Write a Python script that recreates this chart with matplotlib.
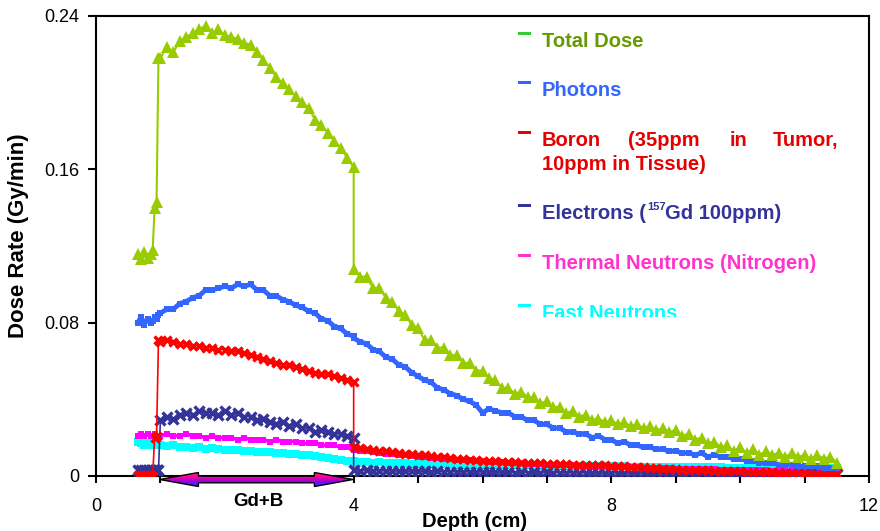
import numpy as np
import matplotlib
matplotlib.use('Agg')
import matplotlib.pyplot as plt
from matplotlib.ticker import MultipleLocator, FuncFormatter
from matplotlib.patches import Polygon, Rectangle
from matplotlib.transforms import Bbox, TransformedBbox
from matplotlib.colors import LinearSegmentedColormap

plt.rcParams['font.family'] = ['Liberation Sans', 'DejaVu Sans']

W, H = 880, 531

# depths (cm): before the tumour, inside the Gd+B tumour (1-4 cm), tissue behind it
depth_pre = [0.65, 0.70, 0.75, 0.80, 0.85, 0.88, 0.91, 0.94, 0.97]
depth_tumor = np.round(np.arange(1.0, 4.05, 0.1), 1)
depth_tissue = np.round(np.arange(4.0, 11.55, 0.1), 1)

# dose rates (Gy/min)
total_pre = [0.116, 0.113, 0.117, 0.114, 0.116, 0.118, 0.140, 0.143, 0.218]
total_tumor = [0.218, 0.224, 0.221, 0.227, 0.229, 0.231, 0.233, 0.235, 0.231, 0.233,
               0.230, 0.229, 0.228, 0.226, 0.225, 0.221, 0.217, 0.213, 0.208, 0.205,
               0.202, 0.198, 0.195, 0.192, 0.186, 0.183, 0.179, 0.175, 0.171, 0.166,
               0.161]
total_tissue = [0.108, 0.104, 0.104, 0.098, 0.098, 0.093, 0.091, 0.086, 0.084, 0.079,
                0.077, 0.071, 0.071, 0.067, 0.067, 0.063, 0.063, 0.059, 0.059, 0.055,
                0.055, 0.051, 0.050, 0.046, 0.046, 0.043, 0.044, 0.041, 0.041, 0.038,
                0.039, 0.036, 0.036, 0.033, 0.034, 0.031, 0.032, 0.029, 0.030, 0.028,
                0.029, 0.027, 0.028, 0.026, 0.027, 0.025, 0.026, 0.024, 0.025, 0.023,
                0.024, 0.021, 0.022, 0.019, 0.020, 0.017, 0.018, 0.015, 0.016, 0.013,
                0.015, 0.012, 0.014, 0.011, 0.013, 0.011, 0.012, 0.010, 0.012, 0.010,
                0.011, 0.009, 0.011, 0.009, 0.010, 0.007]

photons_pre = [0.080, 0.083, 0.079, 0.082, 0.080, 0.081, 0.083, 0.082, 0.084]
photons_tumor = [0.085, 0.087, 0.087, 0.090, 0.091, 0.093, 0.094, 0.097, 0.097, 0.098,
                 0.099, 0.098, 0.100, 0.099, 0.100, 0.097, 0.097, 0.094, 0.094, 0.092,
                 0.091, 0.089, 0.088, 0.086, 0.085, 0.082, 0.081, 0.078, 0.077, 0.074,
                 0.073]
photons_tissue = [0.072, 0.070, 0.069, 0.066, 0.065, 0.062, 0.061, 0.058, 0.057, 0.054,
                  0.052, 0.050, 0.049, 0.046, 0.045, 0.043, 0.042, 0.040, 0.039, 0.037,
                  0.033, 0.035, 0.034, 0.033, 0.033, 0.031, 0.031, 0.029, 0.029, 0.027,
                  0.027, 0.025, 0.025, 0.023, 0.023, 0.022, 0.022, 0.020, 0.021, 0.019,
                  0.019, 0.017, 0.018, 0.016, 0.016, 0.015, 0.015, 0.014, 0.014, 0.013,
                  0.013, 0.012, 0.012, 0.011, 0.012, 0.010, 0.011, 0.010, 0.010, 0.009,
                  0.009, 0.008, 0.008, 0.007, 0.007, 0.007, 0.006, 0.006, 0.006, 0.005,
                  0.005, 0.005, 0.005, 0.004, 0.004, 0.004]

boron_pre = [0.0005, 0.0005, 0.0005, 0.0005, 0.0005, 0.0, 0.020, 0.021, 0.071]
boron_tumor = [0.070, 0.071, 0.070, 0.069, 0.069, 0.068, 0.068, 0.067, 0.067, 0.066,
               0.066, 0.065, 0.065, 0.064, 0.063, 0.062, 0.061, 0.060, 0.059, 0.058,
               0.058, 0.057, 0.056, 0.055, 0.054, 0.053, 0.053, 0.052, 0.051, 0.050,
               0.049]
boron_tissue = [0.0150, 0.0145, 0.0140, 0.0137, 0.0133, 0.0130, 0.0125, 0.0120, 0.0117, 0.0113,
                0.0110, 0.0107, 0.0103, 0.0100, 0.0097, 0.0094, 0.0090, 0.0087, 0.0085, 0.0082,
                0.0080, 0.0078, 0.0076, 0.0074, 0.0073, 0.0071, 0.0070, 0.0068, 0.0067, 0.0066,
                0.0065, 0.0064, 0.0063, 0.0061, 0.0060, 0.0059, 0.0058, 0.0057, 0.0056, 0.0055,
                0.0054, 0.0052, 0.0051, 0.0049, 0.0047, 0.0045, 0.0043, 0.0041, 0.0039, 0.0037,
                0.0035, 0.0033, 0.0032, 0.0031, 0.0030, 0.0029, 0.0028, 0.0027, 0.0026, 0.0025,
                0.0024, 0.0023, 0.0022, 0.0021, 0.0020, 0.0019, 0.0018, 0.0017, 0.0016, 0.0015,
                0.0014, 0.0013, 0.0012, 0.0011, 0.0010, 0.0010]

electrons_pre = [0.003, 0.003, 0.003, 0.003, 0.003, 0.003, 0.003, 0.003, 0.003]
electrons_tumor = [0.029, 0.031, 0.030, 0.032, 0.033, 0.032, 0.034, 0.033, 0.033, 0.032,
                   0.034, 0.032, 0.033, 0.031, 0.031, 0.029, 0.030, 0.028, 0.027, 0.028,
                   0.026, 0.027, 0.025, 0.025, 0.023, 0.024, 0.023, 0.022, 0.022, 0.021,
                   0.020]
electrons_tissue = [0.0030, 0.0028, 0.0029, 0.0027, 0.0028, 0.0026, 0.0027, 0.0025, 0.0026, 0.0025,
                    0.0024, 0.0025, 0.0023, 0.0024, 0.0022, 0.0023, 0.0021, 0.0022, 0.0021, 0.0020,
                    0.0022, 0.0020, 0.0021, 0.0019, 0.0020, 0.0018, 0.0019, 0.0018, 0.0019, 0.0017,
                    0.0019, 0.0017, 0.0018, 0.0016, 0.0017, 0.0016, 0.0017, 0.0016, 0.0016, 0.0015,
                    0.0017, 0.0015, 0.0016, 0.0015, 0.0016, 0.0015, 0.0015, 0.0014, 0.0015, 0.0014,
                    0.0015, 0.0013, 0.0014, 0.0013, 0.0014, 0.0013, 0.0014, 0.0013, 0.0013, 0.0012,
                    0.0013, 0.0012, 0.0012, 0.0011, 0.0012, 0.0011, 0.0012, 0.0011, 0.0011, 0.0011,
                    0.0011, 0.0010, 0.0011, 0.0010, 0.0010, 0.0010]

thermal_pre = [0.021, 0.022, 0.021, 0.022, 0.021, 0.021, 0.022, 0.021, 0.021]
thermal_tumor = [0.021, 0.022, 0.021, 0.021, 0.022, 0.021, 0.021, 0.020, 0.021, 0.020,
                 0.020, 0.020, 0.019, 0.020, 0.019, 0.019, 0.019, 0.018, 0.019, 0.018,
                 0.018, 0.018, 0.017, 0.017, 0.017, 0.016, 0.016, 0.016, 0.015, 0.015,
                 0.015]
thermal_tissue = [0.0135, 0.0130, 0.0128, 0.0124, 0.0120, 0.0117, 0.0113, 0.0110, 0.0107, 0.0104,
                  0.0101, 0.0098, 0.0095, 0.0092, 0.0090, 0.0087, 0.0085, 0.0083, 0.0081, 0.0079,
                  0.0077, 0.0075, 0.0073, 0.0071, 0.0070, 0.0068, 0.0066, 0.0065, 0.0063, 0.0062,
                  0.0060, 0.0059, 0.0058, 0.0056, 0.0055, 0.0054, 0.0053, 0.0052, 0.0051, 0.0050,
                  0.0049, 0.0048, 0.0047, 0.0046, 0.0045, 0.0044, 0.0043, 0.0042, 0.0041, 0.0040,
                  0.0039, 0.0038, 0.0037, 0.0036, 0.0036, 0.0035, 0.0034, 0.0033, 0.0033, 0.0032,
                  0.0031, 0.0031, 0.0030, 0.0029, 0.0029, 0.0028, 0.0028, 0.0027, 0.0027, 0.0026,
                  0.0026, 0.0025, 0.0025, 0.0024, 0.0024, 0.0023]

fast_pre = [0.018, 0.017, 0.016, 0.017, 0.016, 0.017, 0.016, 0.016, 0.016]
fast_tumor = [0.0160, 0.0155, 0.0160, 0.0150, 0.0152, 0.0148, 0.0150, 0.0143, 0.0145, 0.0140,
              0.0138, 0.0135, 0.0137, 0.0130, 0.0132, 0.0127, 0.0125, 0.0126, 0.0120, 0.0122,
              0.0116, 0.0113, 0.0111, 0.0107, 0.0105, 0.0099, 0.0095, 0.0090, 0.0085, 0.0080,
              0.0075]
fast_tissue = [0.0078, 0.0074, 0.0072, 0.0070, 0.0071, 0.0068, 0.0067, 0.0066, 0.0066, 0.0065,
               0.0064, 0.0063, 0.0063, 0.0062, 0.0061, 0.0061, 0.0060, 0.0060, 0.0059, 0.0059,
               0.0058, 0.0058, 0.0057, 0.0057, 0.0056, 0.0056, 0.0055, 0.0055, 0.0055, 0.0054,
               0.0054, 0.0053, 0.0053, 0.0053, 0.0052, 0.0052, 0.0052, 0.0051, 0.0051, 0.0051,
               0.0050, 0.0050, 0.0050, 0.0049, 0.0049, 0.0049, 0.0048, 0.0048, 0.0048, 0.0047,
               0.0047, 0.0047, 0.0046, 0.0046, 0.0046, 0.0045, 0.0045, 0.0045, 0.0044, 0.0044,
               0.0044, 0.0044, 0.0043, 0.0043, 0.0043, 0.0042, 0.0042, 0.0042, 0.0042, 0.0041,
               0.0041, 0.0041, 0.0040, 0.0040, 0.0040, 0.0040]

x_tick_labels = ['0', '4', '8', '12']
y_ticks = [0, 0.08, 0.16, 0.24]
y_tick_labels = ['0', '0.08', '0.16', '0.24']


def fx(px):
    return px / W


def fy(py):
    return 1 - py / H


fig = plt.figure(figsize=(W / 100, H / 100), dpi=100)
ax = fig.add_axes([fx(96), fy(476), (869 - 96) / W, (476 - 16) / H])

depth = np.concatenate([depth_pre, depth_tumor, depth_tissue])

# drawn bottom to top
curves = [
    (fast_pre, fast_tumor, fast_tissue,
     dict(color='#00FFFF', lw=3.5, marker='s', ms=5.5, mew=0)),
    (thermal_pre, thermal_tumor, thermal_tissue,
     dict(color='#FF00FF', lw=2.5, marker='s', ms=4.5, mew=0)),
    (electrons_pre, electrons_tumor, electrons_tissue,
     dict(color='#333399', lw=1.2, marker='x', ms=6.5, mew=2.4)),
    (boron_pre, boron_tumor, boron_tissue,
     dict(color='#FF0000', lw=1.2, marker='x', ms=6, mew=2.4)),
    (photons_pre, photons_tumor, photons_tissue,
     dict(color='#3366FF', lw=3.5, marker='s', ms=4, mew=0)),
    (total_pre, total_tumor, total_tissue,
     dict(color='#99CC00', lw=1.5, marker='^', ms=8, mew=0)),
]
for i, (pre, tumor, tissue, style) in enumerate(curves):
    vals = np.concatenate([pre, tumor, tissue])
    ax.plot(depth, vals, zorder=2 + i, **style)

ax.set_xlim(0, 12)
ax.set_ylim(0, 0.24)
ax.xaxis.set_major_locator(MultipleLocator(1))
ax.xaxis.set_major_formatter(FuncFormatter(
    lambda v, p: x_tick_labels[int(round(v)) // 4] if int(round(v)) % 4 == 0 else ''))
ax.set_yticks(y_ticks)
ax.set_yticklabels(y_tick_labels)
ax.tick_params(axis='x', length=5, width=1.5, pad=11, labelsize=13)
ax.tick_params(axis='y', length=6, width=1.5, pad=6, labelsize=13)
for sp in ax.spines.values():
    sp.set_linewidth(1.5)

# axis titles
fig.text(fx(475), fy(527), 'Depth (cm)', ha='center', va='baseline',
         weight='bold', size=14.5)
fig.text(fx(19), fy(236), 'Dose Rate (Gy/min)', ha='center', va='center',
         rotation=90, weight='bold', size=16)

# Gd+B double arrow under the axis
arr_ax = fig.add_axes([fx(96), fy(490.5), (869 - 96) / W, 22 / H])
arr_ax.set_xlim(0, 12)
arr_ax.set_ylim(-11, 11)
arr_ax.axis('off')
arr_ax.set_zorder(5)
x0, x1, hl, hh, bh = 0.99, 3.99, 0.6, 7, 3.3
verts = [(x0, 0), (x0 + hl, hh), (x0 + hl, bh), (x1 - hl, bh), (x1 - hl, hh),
         (x1, 0), (x1 - hl, -hh), (x1 - hl, -bh), (x0 + hl, -bh), (x0 + hl, -hh)]
arrow = Polygon(verts, closed=True, facecolor='none', edgecolor='black', lw=1, zorder=3)
arr_ax.add_patch(arrow)
cmap = LinearSegmentedColormap.from_list('gdb', ['#2233FF', '#9900E0', '#FF0099', '#FF3377'])
grad = np.linspace(0, 1, 64).reshape(-1, 1)
im = arr_ax.imshow(grad, cmap=cmap, extent=[x0, x1, -hh, hh], origin='lower',
                   aspect='auto', interpolation='bilinear', zorder=2)
im.set_clip_path(arrow)
arr_ax.set_xlim(0, 12)
arr_ax.set_ylim(-11, 11)
fig.text(fx(258), fy(502), 'Gd+B', ha='center', va='center', weight='bold', size=13.5)

# legend, drawn as coloured text
leg_x = 542
mark_rows = [('#33CC33', 33.5), ('#3366FF', 82.5), ('#E60000', 132.5),
             ('#333399', 205.5), ('#FF33CC', 255.5), ('#00FFFF', 305.5)]
for col, py in mark_rows:
    fig.add_artist(Rectangle((fx(518), fy(py + 1.5)), 13 / W, 3 / H,
                             transform=fig.transFigure, color=col, lw=0))

kw = dict(va='baseline', ha='left', weight='bold', size=14.5)
fig.text(fx(leg_x), fy(47), 'Total Dose', color='#669900', **kw)
fig.text(fx(leg_x), fy(96), 'Photons', color='#3366FF', **kw)
for word, px in [('Boron', 542), ('(35ppm', 628), ('in', 730), ('Tumor,', 773)]:
    fig.text(fx(px), fy(146), word, color='#E60000', **kw)
fig.text(fx(leg_x), fy(170), '10ppm in Tissue)', color='#E60000', **kw)
fig.text(fx(leg_x), fy(219), 'Electrons (', color='#333399', **kw)
fig.text(fx(647), fy(210), '157', color='#333399', va='baseline', ha='left',
         weight='bold', size=8)
fig.text(fx(665), fy(219), 'Gd 100ppm)', color='#333399', **kw)
fig.text(fx(leg_x), fy(269), 'Thermal Neutrons (Nitrogen)', color='#FF33CC', **kw)
fast_txt = fig.text(fx(leg_x), fy(319), 'Fast Neutrons', color='#00FFFF', **kw)
fast_txt.set_clip_box(TransformedBbox(Bbox.from_extents(0, fy(317), 1, 1), fig.transFigure))

fig.savefig('out.png', dpi=100)
